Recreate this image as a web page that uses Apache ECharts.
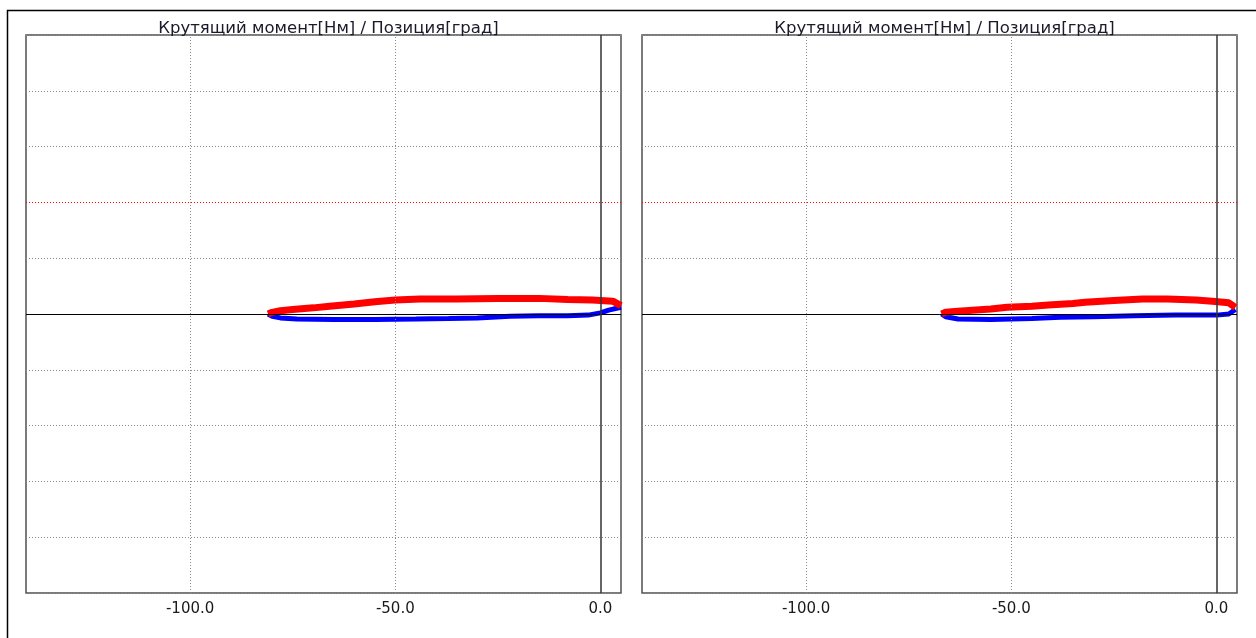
<!DOCTYPE html>
<html><head><meta charset="utf-8">
<script src="https://cdn.jsdelivr.net/npm/echarts@6/dist/echarts.min.js"></script>
<style>html,body{margin:0;padding:0;background:#fff}#c{width:1256px;height:638px}</style>
</head><body><div id="c"></div>
<script>
const titleText = 'Крутящий момент[Нм] / Позиция[град]';
const xTickValues = [-100, -50, 0];
const xMin = -140, xMax = 5;
const yMin = -5, yMax = 5, yStep = 1;
const limitValue = 2;

// Left panel: position [deg] vs torque [Nm]
const leftRedX  = [-81, -80, -78, -75, -70, -66, -60, -55, -50, -44, -35, -25, -15, -8, -2, 3, 5];
const leftRedY  = [0.0, 0.03, 0.06, 0.08, 0.11, 0.14, 0.18, 0.22, 0.25, 0.27, 0.27, 0.28, 0.28, 0.26, 0.25, 0.23, 0.15];
const leftBlueX = [-81, -80, -78, -74, -65, -55, -45, -37, -30, -22, -15, -8, -3, 0, 2, 5];
const leftBlueY = [0.0, -0.04, -0.07, -0.09, -0.10, -0.10, -0.09, -0.08, -0.07, -0.04, -0.03, -0.03, -0.02, 0.02, 0.07, 0.12];

// Right panel
const rightRedX  = [-67, -66, -63, -55, -51, -45, -41, -35, -32, -25, -18, -12, -5, -1, 3, 4.6];
const rightRedY  = [0.0, 0.03, 0.05, 0.09, 0.12, 0.14, 0.16, 0.19, 0.21, 0.24, 0.27, 0.27, 0.25, 0.23, 0.20, 0.12];
const rightBlueX = [-67, -66, -63, -55, -45, -38, -30, -20, -10, 0, 3, 4.6];
const rightBlueY = [0.0, -0.05, -0.09, -0.10, -0.08, -0.06, -0.05, -0.03, -0.02, -0.02, 0.0, 0.08];

const zip = (xs, ys) => xs.map((x, i) => [x, ys[i]]);

const grids = [
  {left: 26, top: 35, width: 595, height: 558, show: true, borderColor: '#505050', borderWidth: 1.5, backgroundColor: '#fff'},
  {left: 642, top: 35, width: 595, height: 558, show: true, borderColor: '#505050', borderWidth: 1.5, backgroundColor: '#fff'}
];

function xAxisFor(i) {
  return {
    type: 'value', gridIndex: i, min: xMin, max: xMax,
    axisLine: {show: false}, axisTick: {show: false}, splitLine: {show: false},
    axisLabel: {customValues: xTickValues, formatter: v => v.toFixed(1), color: '#1a1a1a',
      fontSize: 15, fontFamily: 'DejaVu Sans', margin: 9, showMinLabel: true, showMaxLabel: true}
  };
}
function yAxisFor(i) {
  return {
    type: 'value', gridIndex: i, min: yMin, max: yMax, interval: yStep,
    axisLine: {show: false}, axisTick: {show: false}, axisLabel: {show: false},
    splitLine: {show: true, lineStyle: {color: '#8a8a8a', type: [1, 2], width: 1}}
  };
}
function guideSeries(i) {
  return {
    type: 'line', xAxisIndex: i, yAxisIndex: i, data: [], silent: true, z: 1,
    markLine: {
      silent: true, symbol: 'none', label: {show: false}, animation: false,
      data: [
        ...xTickValues.filter(v => v !== 0).map(v => ({xAxis: v, lineStyle: {color: '#8a8a8a', type: [1, 2], width: 1}})),
        {yAxis: limitValue, lineStyle: {color: '#ff0000', type: [1, 2], width: 1}},
        {yAxis: 0, lineStyle: {color: '#000', type: 'solid', width: 1}}
      ]
    }
  };
}
function zeroSeries(i) {
  return {
    type: 'line', xAxisIndex: i, yAxisIndex: i, data: [], silent: true, z: 5,
    markLine: {
      silent: true, symbol: 'none', label: {show: false}, animation: false,
      data: [{xAxis: 0, lineStyle: {color: '#333', type: 'solid', width: 1.5}}]
    }
  };
}
function curve(i, xs, ys, color, w) {
  return {
    type: 'line', xAxisIndex: i, yAxisIndex: i, data: zip(xs, ys), showSymbol: false,
    smooth: false, animation: false, z: 3, lineStyle: {color: color, width: w}
  };
}

const chart = echarts.init(document.getElementById('c'), null, {renderer: 'canvas'});
chart.setOption({
  backgroundColor: '#fff',
  animation: false,
  title: [
    {text: titleText, left: 323.5, top: 15, textAlign: 'center',
     textStyle: {fontSize: 16.5, fontWeight: 'normal', color: '#1a1a2a', fontFamily: 'DejaVu Sans'}},
    {text: titleText, left: 939.5, top: 15, textAlign: 'center',
     textStyle: {fontSize: 16.5, fontWeight: 'normal', color: '#1a1a2a', fontFamily: 'DejaVu Sans'}}
  ],
  grid: grids,
  xAxis: [xAxisFor(0), xAxisFor(1)],
  yAxis: [yAxisFor(0), yAxisFor(1)],
  graphic: [
    {type: 'polyline', shape: {points: [[7.5, 638], [7.5, 10.5], [1256, 10.5]]},
     style: {stroke: '#000', lineWidth: 1.5, fill: null}, silent: true}
  ],
  series: [
    guideSeries(0), guideSeries(1),
    curve(0, leftBlueX, leftBlueY, '#0000ff', 5),
    curve(0, leftRedX, leftRedY, '#ff0000', 7),
    curve(1, rightBlueX, rightBlueY, '#0000ff', 5),
    curve(1, rightRedX, rightRedY, '#ff0000', 7),
    zeroSeries(0), zeroSeries(1)
  ]
});
</script></body></html>
